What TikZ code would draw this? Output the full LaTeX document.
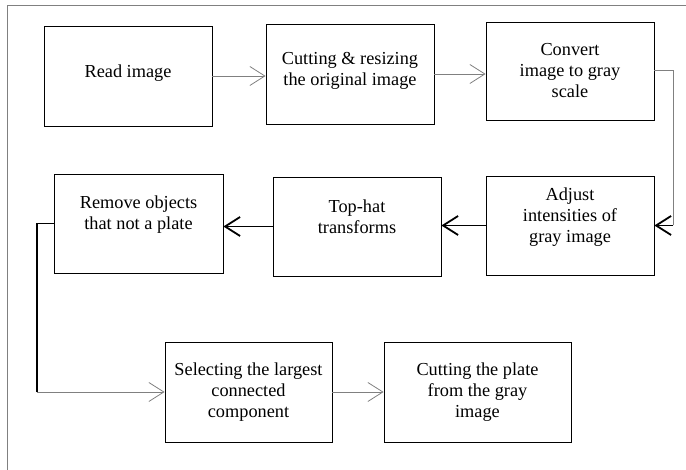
\documentclass[tikz,border=0pt]{standalone}
\usepackage{fontspec}
\setmainfont{Liberation Serif}
\usetikzlibrary{arrows.meta}

\begin{document}
\begin{tikzpicture}[x=1pt, y=1pt,
    stepbox/.style={draw, line width=0.8pt, minimum width=168pt, minimum height=100pt,
        inner sep=0pt, align=center, font=\fontsize{18.3pt}{21pt}\selectfont},
    raised/.style={text depth=#1},
    thinflow/.style={draw=gray, line width=0.8pt, -{Straight Barb[length=15pt, width=19pt]}},
    thickflow/.style={line width=1.8pt, -{Straight Barb[length=15pt, width=19pt]}}]
    \useasboundingbox (0,0) rectangle (686,470);

    % Open frame (cut at right and bottom)
    \draw[gray, line width=1pt] (7,0) -- (7,464) -- (686,464);

    % Row 1: reading and preparing the image
    \node[stepbox, raised=10pt] (read) at (128,394) {Read image};
    \node[stepbox, raised=10pt] (cut) at (350,396) {Cutting \& resizing\\the original image};
    \node[stepbox, minimum height=98pt] (gray) at (570,399) {Convert\\image to gray\\scale};

    % Row 2: enhancement and filtering
    \node[stepbox, minimum height=99pt, raised=21pt] (adjust) at (570,244.5) {Adjust\\intensities of\\gray image};
    \node[stepbox, minimum height=99pt, raised=19pt] (tophat) at (357,243.5) {Top-hat\\transforms};
    \node[stepbox, minimum height=99pt, minimum width=169pt, raised=21pt] (remove) at (138.5,246.5) {Remove objects\\that not a plate};

    % Row 3: extracting the plate
    \node[stepbox, minimum width=167pt] (select) at (248.5,78) {Selecting the largest\\connected\\component};
    \node[stepbox, minimum width=187pt] (plate) at (477.5,78) {Cutting the plate\\from the gray\\image};

    % Connectors
    \draw[thinflow] (read.east) -- (read.east -| cut.west);
    \draw[thinflow] (cut.east) -- (cut.east -| gray.west);
    \draw[gray, line width=1pt] (gray.east) -- ++(19,0) coordinate (drop) -- (drop |- adjust.east);
    \draw[thickflow] (drop |- adjust.east) -- (adjust.east);
    \draw[thickflow] (adjust.west) -- (adjust.west -| tophat.east);
    \draw[thickflow] (tophat.west) -- (tophat.west -| remove.east);
    \draw[line width=1.8pt] (remove.west) -- ++(-17,0) coordinate (turn) -- (turn |- select.west) coordinate (corner);
    \draw[thinflow] (corner) -- (select.west);
    \draw[thinflow] (select.east) -- (plate.west);

\end{tikzpicture}
\end{document}
